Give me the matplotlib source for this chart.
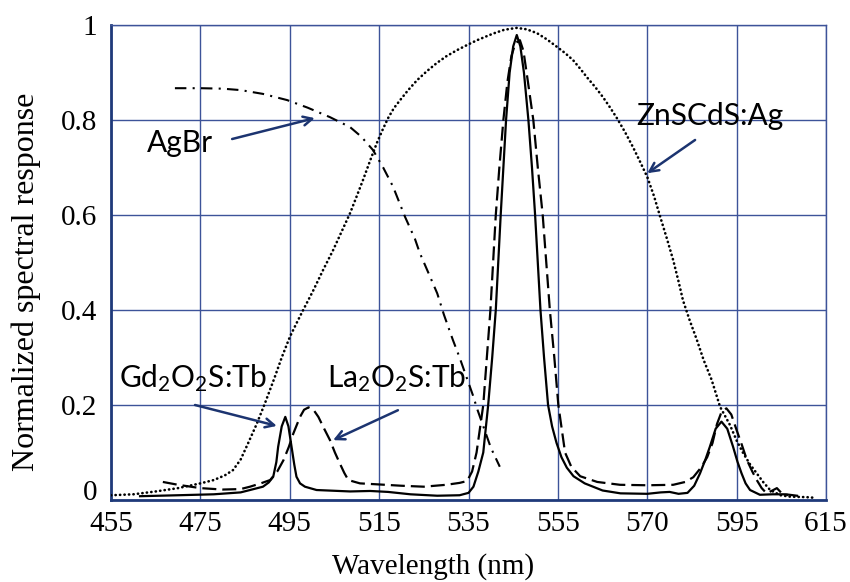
import matplotlib
matplotlib.use("Agg")
import matplotlib.pyplot as plt

plt.rcParams["mathtext.fontset"] = "custom"
plt.rcParams["mathtext.rm"] = "Lato"

# Gd2O2S:Tb emission (solid)
gd_wl = [461.5, 470, 478, 484, 486.1, 489, 490.3, 491.3, 492.0, 492.4, 493.2, 494.0,
         494.7, 495.4, 496.0, 496.5, 497.3, 498.4, 501, 508.5, 513, 517, 522, 528, 533,
         535, 536.1, 537.2, 538.3, 539.4, 540.3, 541.1, 542.2, 542.8, 543.4, 544.2,
         545.0, 545.8, 546.6, 547.4, 548.4, 549.2, 549.9, 551.1, 551.9, 552.8, 553.7,
         554.7, 555.8, 557, 558.5, 561, 565, 569, 575, 578, 580, 582, 584, 585.5, 586.8, 588,
         589, 590.3, 591.6, 592.9, 594.2, 595.2, 596.1, 597, 598, 600.2, 603, 606, 608.5]
gd_resp = [0.008, 0.01, 0.012, 0.016, 0.021, 0.028, 0.037, 0.049, 0.08, 0.112, 0.155, 0.175,
           0.155, 0.112, 0.075, 0.049, 0.035, 0.028, 0.021, 0.018, 0.019, 0.017, 0.012, 0.009, 0.01,
           0.015, 0.028, 0.06, 0.1, 0.2, 0.3, 0.4, 0.6, 0.7, 0.8, 0.9,
           0.955, 0.979, 0.955, 0.9, 0.8, 0.7, 0.6, 0.4, 0.3, 0.2, 0.155,
           0.12, 0.09, 0.068, 0.05, 0.035, 0.02, 0.014, 0.013, 0.016, 0.017, 0.013, 0.015, 0.03, 0.056, 0.085,
           0.112, 0.15, 0.165, 0.15, 0.112, 0.08, 0.056, 0.035, 0.021, 0.011, 0.012, 0.012, 0.009]

# La2O2S:Tb emission (dashed)
la_wl = [466.6, 470, 475, 480, 484, 486.1, 488.5, 490.6, 492.2, 493.6, 494.8, 495.8,
         497.3, 498.2, 499.2, 500.3, 501.4, 502.7, 504, 505.1, 506.2, 507.2, 508.1, 510.7,
         514.5, 520, 525, 530, 533, 534.7, 535.8, 536.8, 538.3, 539.1, 539.9, 541.1,
         541.9, 542.8, 543.7, 544.6, 545.5, 546.5, 547.3, 548.3, 549.5, 550.5, 551.6,
         553.2, 554.2, 555.1, 556.6, 558, 560, 563.8, 568.9, 575, 580.8, 583.5, 585.3,
         587, 588.4, 589.6, 590.6, 591.6, 592.7, 593.8, 595, 596.2, 597.3, 598.5, 599.5,
         600.6, 601.7, 603, 604, 605, 606.5]
la_resp = [0.038, 0.032, 0.025, 0.022, 0.023, 0.028, 0.035, 0.042, 0.06, 0.084, 0.112, 0.14,
           0.175, 0.19, 0.195, 0.19, 0.175, 0.15, 0.126, 0.1, 0.077, 0.057, 0.042, 0.035,
           0.033, 0.03, 0.028, 0.032, 0.036, 0.04, 0.06, 0.1, 0.2, 0.3, 0.4, 0.6,
           0.7, 0.8, 0.88, 0.935, 0.962, 0.968, 0.945, 0.88, 0.8, 0.7, 0.6,
           0.4, 0.3, 0.2, 0.1, 0.07, 0.05, 0.038, 0.032, 0.031, 0.032, 0.038, 0.048,
           0.068, 0.09, 0.12, 0.16, 0.185, 0.193, 0.18, 0.147, 0.115, 0.084, 0.06, 0.042,
           0.025, 0.014, 0.02, 0.025, 0.015, 0.01]

# ZnSCdS:Ag film sensitivity (dotted)
zn_wl = [455, 460, 465, 470, 475, 478, 480.5, 482.3, 484, 485.7, 487.6, 489.5, 491.5,
         493.2, 495, 496.5, 498, 500.2, 502.5, 504.7, 506.6, 508.5, 510, 511.4, 513,
         514.5, 515.8, 517, 518.3, 519.7, 521.5, 523.5, 525.7, 527.9, 530, 532.4, 534.7,
         536.9, 540.5, 543, 545.8, 548, 550.3, 552.5, 554.8, 556.6, 558.4, 560, 561.5,
         563.3, 565.1, 566.7, 568.2, 570, 571.8, 573.4, 575, 576.5, 577.9, 579.4, 580.8,
         582, 583, 584.5, 586.1, 587.6, 589.4, 591.3, 593.5, 595, 596.5, 598, 599.5, 601,
         602.5, 604.8, 607, 610.6, 612]
zn_resp = [0.01, 0.012, 0.018, 0.025, 0.035, 0.042, 0.052, 0.063, 0.085, 0.12, 0.16, 0.205, 0.255,
           0.3, 0.343, 0.372, 0.4, 0.44, 0.485, 0.526, 0.565, 0.604, 0.64, 0.674, 0.715,
           0.752, 0.78, 0.804, 0.825, 0.842, 0.863, 0.884, 0.903, 0.92, 0.934, 0.947, 0.958,
           0.968, 0.982, 0.99, 0.994, 0.991, 0.983, 0.97, 0.954, 0.941, 0.926, 0.908, 0.89,
           0.87, 0.848, 0.826, 0.804, 0.775, 0.743, 0.712, 0.68, 0.64, 0.596, 0.55, 0.505,
           0.46, 0.42, 0.378, 0.337, 0.295, 0.253, 0.196, 0.158, 0.125, 0.098, 0.075, 0.056, 0.037,
           0.021, 0.01, 0.007, 0.006, 0.005]

# AgBr film sensitivity (dash-dot)
ag_wl = [469.3, 475, 480, 484, 489, 494.4, 499, 504, 508.5, 511, 513.6, 515.9, 518.1,
         520.8, 523, 524.1, 526.4, 528, 529.5, 531.5, 533, 534.5, 536, 537, 538.5, 540, 542]
ag_resp = [0.867, 0.867, 0.866, 0.863, 0.855, 0.842, 0.826, 0.806, 0.785, 0.765, 0.737, 0.70,
           0.66, 0.596, 0.55, 0.52, 0.47, 0.435, 0.39, 0.337, 0.3, 0.26, 0.22, 0.19, 0.15, 0.11, 0.07]

x_ticks = [455, 475, 495, 515, 535, 555, 575, 595, 615]
x_labels = ["455", "475", "495", "515", "535", "555", "570", "595", "615"]
y_ticks = [0, 0.2, 0.4, 0.6, 0.8, 1.0]
y_labels = ["0", "0.2", "0.4", "0.6", "0.8", "1"]

grid_col = "#3d5399"
spine_col = "#1f3a7a"
arrow_col = "#1c3470"
serif = "Liberation Serif"
sans = "Lato"

fig = plt.figure(figsize=(8.5, 5.82), dpi=100)
ax = fig.add_axes([0.1306, 0.1409, 0.8412, 0.8161])

ax.plot(zn_wl, zn_resp, color="black", lw=1.9, linestyle=(0, (0.1, 1.6)),
        dash_capstyle="round", zorder=3)
ax.plot(ag_wl, ag_resp, color="black", lw=1.5, linestyle=(0, (5.5, 3.0, 1.0, 3.0)), zorder=3)
ax.plot(la_wl, la_resp, color="black", lw=1.6, linestyle=(0, (6.3, 2.7)), zorder=3)
ax.plot(gd_wl, gd_resp, color="black", lw=1.6, solid_joinstyle="round", zorder=4)

ax.set_xlim(455, 615)
ax.set_ylim(0, 1)
ax.set_xticks(x_ticks)
ax.set_xticklabels(x_labels, fontfamily=serif, fontsize=21)
ax.set_yticks(y_ticks)
ax.set_yticklabels(y_labels, fontfamily=serif, fontsize=21)
ax.tick_params(axis="x", length=0, pad=8)
ax.tick_params(axis="y", length=0, pad=10)
ax.grid(True, color=grid_col, lw=1.0)
ax.set_axisbelow(True)
for side in ["top", "right"]:
    ax.spines[side].set_color(grid_col)
    ax.spines[side].set_linewidth(1.0)
for side in ["left", "bottom"]:
    ax.spines[side].set_color(spine_col)
    ax.spines[side].set_linewidth(2.0)

# the "0" label sits just above the bottom axis line
zero_lbl = ax.get_yticklabels()[0]
zero_lbl.set_verticalalignment("baseline")

fig.text(433 / 850, 1 - 567 / 582, "Wavelength (nm)", fontfamily=serif, fontsize=21,
         ha="center", va="center")
fig.text(26 / 850, 1 - 282 / 582, "Normalized spectral response", fontfamily=serif,
         fontsize=23, rotation=90, ha="center", va="center")

arrow = dict(arrowstyle="->", color=arrow_col, lw=1.8, mutation_scale=16,
             shrinkA=0, shrinkB=0)
labels = [
    ("AgBr", (470.4, 0.733), (482.1, 0.76), (500.6, 0.804)),
    ("ZnSCdS:Ag", (589.0, 0.79), (585.7, 0.758), (575.0, 0.688)),
    ("Gd$\\mathregular{_2}$O$\\mathregular{_2}$S:Tb", (473.3, 0.238), (473.8, 0.2), (492.1, 0.156)),
    ("La$\\mathregular{_2}$O$\\mathregular{_2}$S:Tb", (519.0, 0.238), (519.2, 0.189), (504.7, 0.126)),
]
for text, text_pos, tail, head in labels:
    ax.text(*text_pos, text, fontsize=21.5, fontfamily=sans, ha="center", va="baseline", zorder=5)
    ax.annotate("", xy=head, xytext=tail, arrowprops=arrow, zorder=5)

fig.savefig("out.png", dpi=100)
